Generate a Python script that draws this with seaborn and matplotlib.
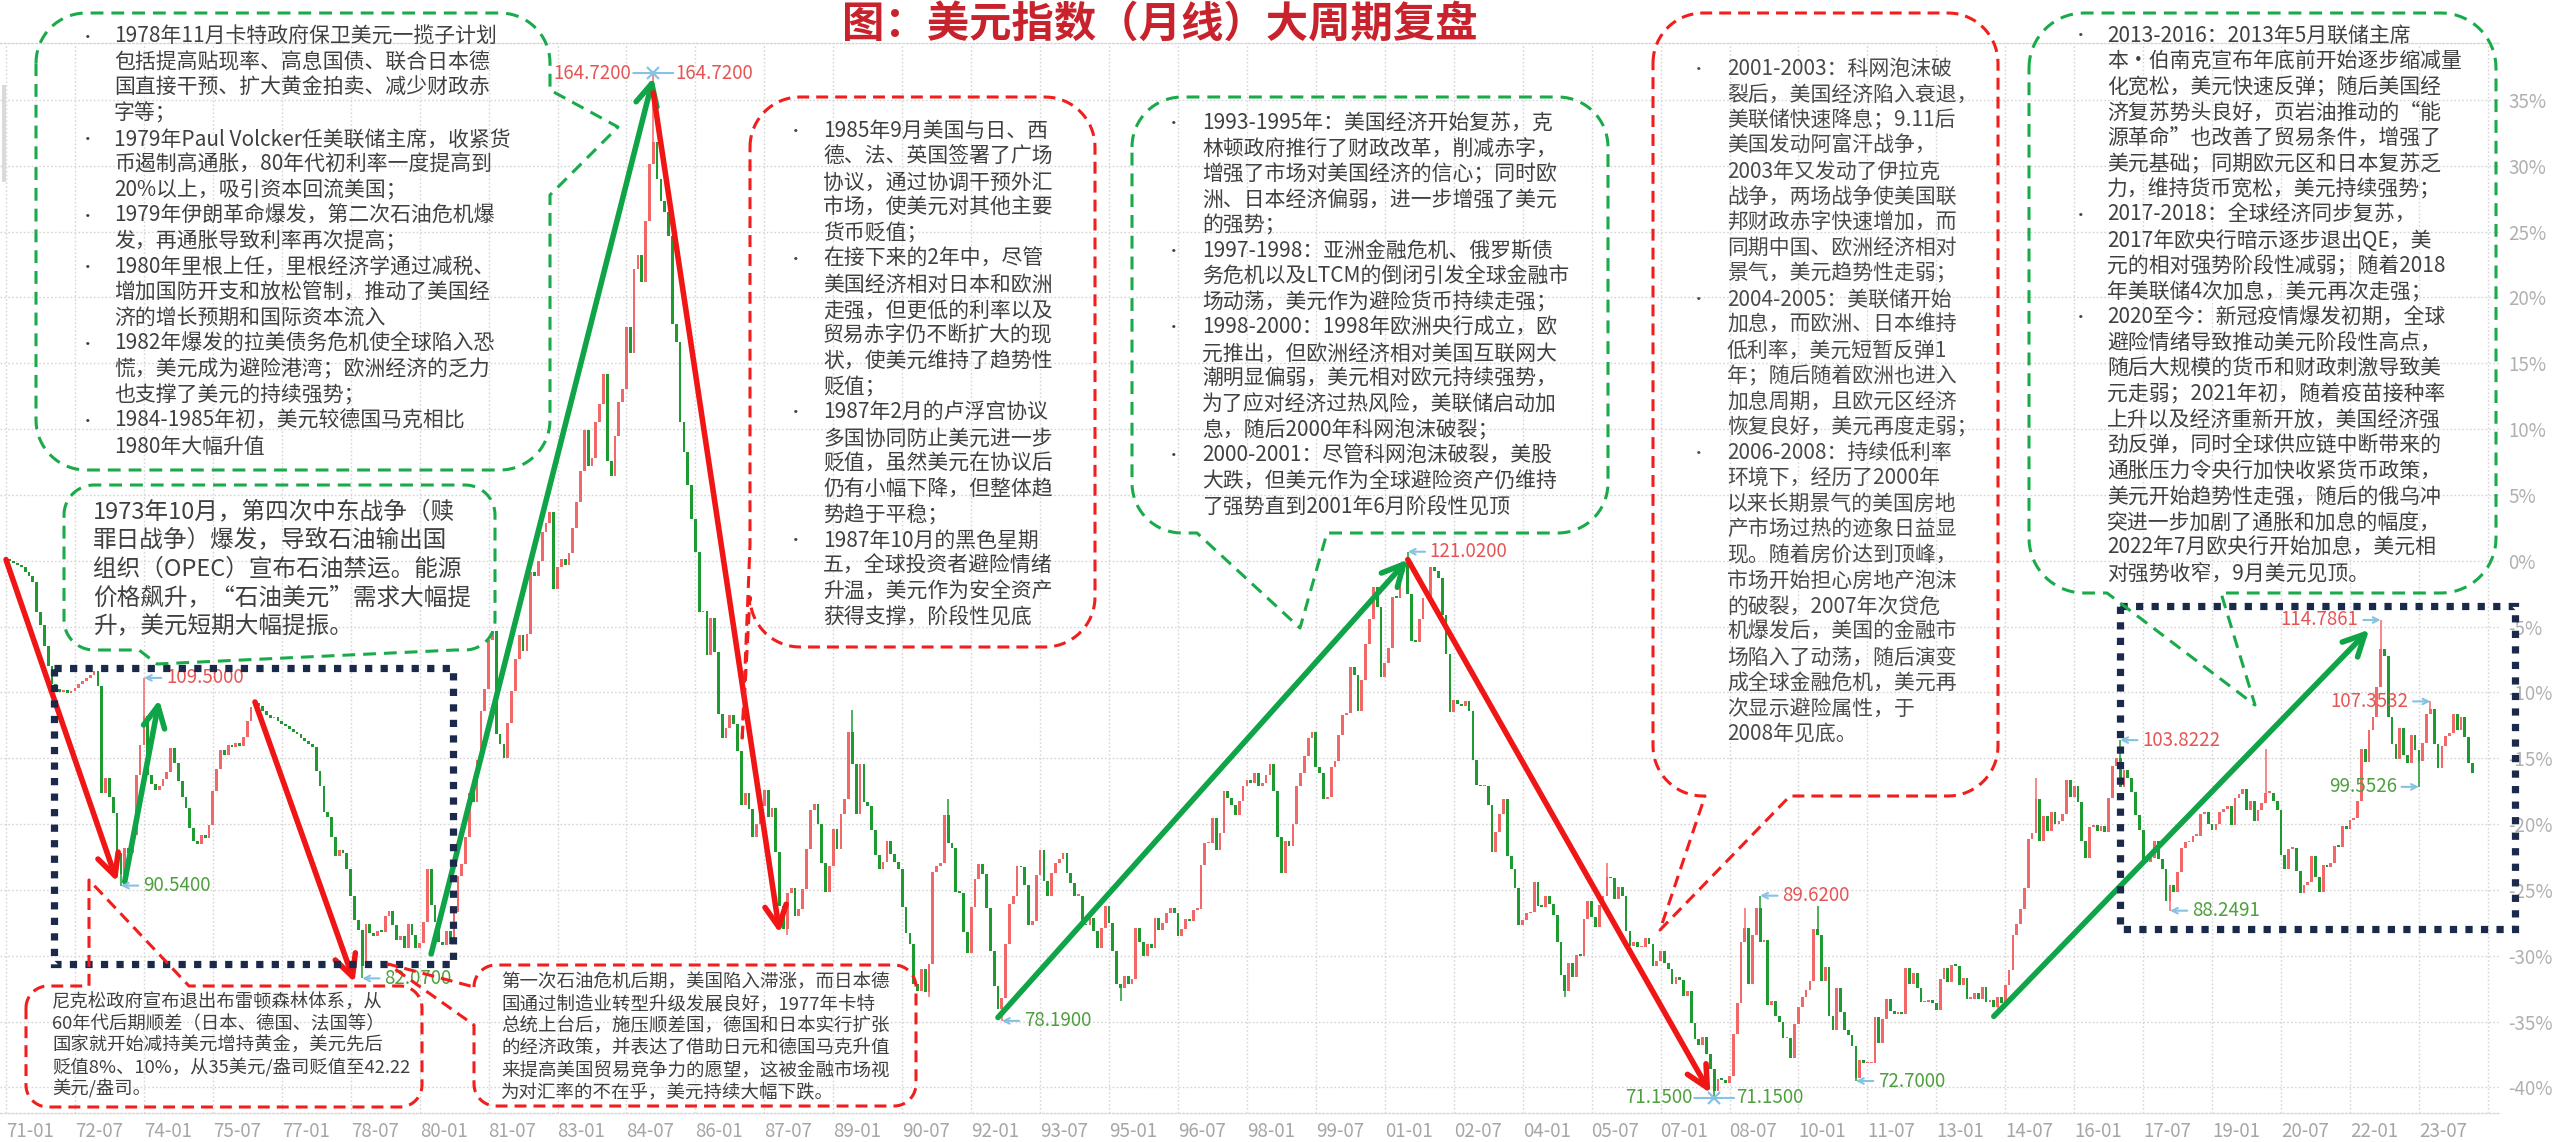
import numpy as np
import pandas as pd
import matplotlib
matplotlib.use("Agg")
import matplotlib.pyplot as plt
from matplotlib.patches import Rectangle
import seaborn as sns

# ---------------- data: US dollar index, monthly ----------------
start_month = "1971-01"
first_open = 120.5

close_1970s = [
    120.3, 120.2, 120.0, 119.8, 119.6, 119.2, 118.8, 118.3, 115.5, 114.3, 112.4, 110.6,   # 1971
    108.9, 108.5, 108.2, 108.4, 108.1, 108.3, 108.6, 108.9, 109.2, 109.5, 109.8, 110.1,   # 1972
    108.8, 99.0, 100.4, 98.6, 97.2, 93.5, 91.6, 94.0, 93.5, 95.2, 100.6, 103.4,           # 1973
    106.0, 100.6, 99.8, 99.3, 99.6, 100.3, 100.9, 103.1, 101.7, 100.1, 98.6, 97.6,        # 1974
    95.8, 94.6, 94.3, 95.2, 94.9, 96.1, 99.2, 101.2, 102.9, 102.5, 103.4, 103.2,          # 1975
    103.6, 103.3, 104.1, 105.6, 106.8, 107.2, 106.9, 106.5, 106.1, 105.8, 105.9, 105.6,   # 1976
    105.3, 105.1, 104.8, 104.6, 104.4, 104.0, 103.7, 103.5, 103.2, 101.0, 99.6, 97.3,     # 1977
    96.8, 95.0, 93.2, 93.8, 93.5, 92.1, 89.6, 87.4, 86.5, 83.2, 87.0, 86.2,               # 1978
    85.9, 86.4, 86.3, 87.8, 88.2, 86.9, 85.6, 85.9, 84.8, 87.0, 86.0, 84.8,               # 1979
]
close_1980s = [
    85.3, 87.2, 92.1, 88.8, 87.2, 85.4, 85.1, 86.4, 85.2, 88.1, 91.4, 92.5,               # 1980
    95.0, 99.0, 98.2, 102.0, 106.5, 108.5, 113.0, 113.8, 104.4, 103.5, 102.2, 105.4,      # 1981
    108.3, 111.2, 113.4, 112.0, 113.5, 119.2, 118.8, 120.2, 122.8, 123.6, 124.6, 117.6,   # 1982
    119.6, 120.4, 119.8, 120.9, 123.2, 125.6, 128.4, 132.1, 128.8, 129.6, 132.9, 134.5,   # 1983
    137.2, 129.3, 127.9, 131.6, 134.7, 135.9, 141.5, 139.2, 146.8, 148.1, 145.6, 151.2,   # 1984
    156.4, 158.4, 155.0, 153.0, 152.0, 149.8, 141.8, 140.2, 132.9, 130.1, 127.1, 124.0,   # 1985
    121.0, 115.5, 115.6, 111.6, 115.0, 111.9, 106.2, 104.0, 104.9, 106.1, 105.3, 102.8,   # 1986
    97.9, 99.0, 97.5, 95.0, 96.2, 97.8, 99.3, 96.8, 97.6, 93.6, 88.7, 86.6,               # 1987
    89.9, 90.3, 87.8, 88.4, 90.2, 93.9, 97.4, 98.0, 96.2, 92.6, 90.0, 92.3,               # 1988
    95.7, 93.9, 97.1, 98.4, 104.6, 101.6, 97.1, 101.6, 98.2, 97.8, 95.6, 93.3,            # 1989
]
close_1990s = [
    92.1, 92.7, 94.6, 93.4, 92.7, 92.1, 88.6, 86.2, 85.2, 81.6, 80.9, 82.9,               # 1990
    80.8, 83.4, 91.8, 92.3, 92.6, 97.0, 94.4, 94.0, 90.0, 89.9, 86.3, 84.4,               # 1991
    88.6, 91.1, 92.5, 91.6, 88.5, 84.6, 81.4, 79.3, 80.3, 85.2, 88.9, 89.6,               # 1992
    92.3, 92.2, 90.6, 86.9, 87.3, 91.5, 93.8, 91.0, 89.6, 91.7, 92.6, 93.0,               # 1993
    93.5, 91.7, 90.8, 89.6, 89.6, 87.0, 86.9, 87.6, 86.4, 84.8, 86.7, 88.7,               # 1994
    87.1, 84.6, 81.6, 81.2, 82.3, 81.6, 82.0, 86.7, 85.4, 84.1, 85.2, 84.8,               # 1995
    87.6, 86.5, 87.1, 88.0, 88.5, 88.0, 85.9, 86.6, 87.5, 87.3, 88.3, 88.4,               # 1996
    92.4, 94.4, 94.4, 96.7, 93.8, 95.3, 99.2, 98.5, 97.9, 97.0, 98.3, 99.6,               # 1997
    100.2, 99.9, 100.8, 99.6, 99.9, 100.6, 101.6, 99.2, 95.0, 91.7, 94.6, 94.2,           # 1998
    96.2, 99.6, 100.8, 102.4, 104.0, 104.6, 101.4, 100.8, 98.4, 98.6, 101.4, 101.9,       # 1999
]
close_2000s = [
    104.3, 106.1, 106.3, 110.5, 109.8, 106.5, 109.3, 112.6, 114.9, 117.8, 116.0, 109.6,   # 2000
    110.9, 112.2, 116.9, 116.8, 119.2, 120.0, 117.2, 112.9, 112.8, 114.9, 116.8, 116.8,   # 2001
    119.6, 119.3, 118.6, 115.2, 111.7, 106.4, 107.5, 107.1, 106.9, 107.4, 106.5, 102.0,   # 2002
    99.7, 99.6, 99.6, 97.9, 93.6, 95.4, 97.1, 98.4, 93.2, 92.1, 90.3, 86.9,               # 2003
    87.4, 88.0, 88.1, 90.9, 88.7, 88.6, 89.6, 88.9, 87.9, 85.4, 82.4, 80.9,               # 2004
    83.5, 82.2, 84.2, 84.1, 87.5, 89.1, 87.7, 86.8, 88.8, 89.6, 91.3, 91.2,               # 2005
    89.3, 90.4, 89.6, 86.4, 85.0, 85.4, 84.9, 84.9, 85.8, 85.2, 83.2, 83.7,               # 2006
    84.6, 83.5, 82.9, 81.6, 82.2, 81.9, 80.5, 80.9, 78.0, 76.5, 76.0, 76.7,               # 2007
    75.2, 73.8, 71.8, 72.9, 72.8, 72.5, 73.2, 77.0, 79.8, 85.4, 86.7, 81.6,               # 2008
    86.0, 88.5, 85.4, 85.6, 79.6, 80.0, 78.6, 78.1, 76.6, 76.6, 74.8, 77.9,               # 2009
]
close_2010s = [
    79.5, 80.4, 81.0, 81.8, 86.6, 86.0, 81.8, 83.1, 78.6, 77.4, 81.2, 79.0,               # 2010
    77.4, 76.9, 75.9, 73.0, 74.6, 74.3, 74.3, 74.3, 78.5, 76.2, 78.4, 80.2,               # 2011
    79.1, 78.8, 79.0, 78.8, 83.0, 81.6, 82.6, 81.2, 79.9, 79.9, 80.1, 79.8,               # 2012
    79.2, 82.0, 83.0, 81.7, 83.3, 83.2, 81.5, 82.1, 80.2, 80.2, 80.7, 80.2,               # 2013
    81.3, 79.9, 80.1, 79.5, 80.4, 79.8, 81.5, 82.8, 86.0, 87.0, 88.4, 90.3,               # 2014
    94.8, 95.3, 98.4, 94.6, 96.9, 95.5, 97.3, 96.2, 96.4, 97.1, 100.2, 98.6,              # 2015
    99.6, 98.2, 94.6, 93.1, 95.9, 96.1, 95.5, 96.0, 95.4, 98.5, 101.5, 102.2,             # 2016
    99.5, 101.1, 100.4, 99.1, 97.0, 95.6, 92.9, 92.7, 93.1, 94.6, 93.0, 92.1,             # 2017
    89.1, 90.6, 90.0, 91.8, 94.0, 94.5, 94.5, 95.1, 95.1, 97.1, 97.3, 96.2,               # 2018
    95.6, 96.2, 97.3, 97.5, 97.8, 96.1, 98.5, 98.9, 99.4, 97.4, 98.3, 96.4,               # 2019
]
close_2020s = [
    97.4, 98.1, 99.0, 99.0, 98.3, 97.4, 93.3, 92.1, 93.9, 94.0, 91.9, 89.9,               # 2020
    90.6, 90.9, 93.2, 91.3, 90.0, 92.4, 92.2, 92.6, 94.2, 94.1, 96.0, 95.7,               # 2021
    96.5, 96.7, 98.3, 103.0, 101.8, 104.7, 105.9, 108.7, 112.1, 111.5, 105.9, 103.5,      # 2022
    102.1, 104.9, 102.5, 101.7, 104.3, 102.9, 101.9, 103.6, 106.2, 106.7, 103.5, 101.3,   # 2023
    103.3, 104.2, 104.5, 106.2, 104.7, 105.9, 104.1, 101.7, 100.8,                        # 2024
]

# intramonth extremes (labelled ones first)
labeled_high_months = ["1974-01", "1985-02", "2001-07", "2009-03", "2017-01", "2022-09", "2023-10"]
labeled_high_values = [109.50, 164.72, 121.02, 89.62, 103.8222, 114.7861, 107.3532]
labeled_low_months = ["1973-07", "1978-10", "1992-09", "2008-03", "2011-04", "2018-02", "2023-07"]
labeled_low_values = [90.54, 82.07, 78.19, 71.15, 72.70, 88.2491, 99.5526]
extra_high_months = ["1989-06", "1991-07", "2005-11", "2008-11", "2010-06", "2015-03", "2020-03"]
extra_high_values = [106.6, 98.4, 92.6, 88.5, 88.7, 100.4, 103.0]
extra_low_months = ["1988-01", "1991-02", "1995-04", "2004-12", "2014-05"]
extra_low_values = [86.0, 80.4, 80.0, 80.4, 78.9]

# cycle trend segments (month, level)
trend_start_months = ["1971-01", "1973-08", "1976-06", "1980-04", "1985-02", "1992-08", "2001-07", "2014-04"]
trend_start_levels = [120.3, 90.9, 107.3, 84.3, 162.9, 78.5, 120.3, 78.6]
trend_end_months = ["1973-06", "1974-05", "1978-08", "1985-02", "1987-11", "2001-07", "2008-02", "2022-06"]
trend_end_levels = [90.9, 107.5, 81.7, 164.3, 86.2, 120.3, 71.6, 113.9]

tick_months = ["1971-01", "1972-07", "1974-01", "1975-07", "1977-01", "1978-07", "1980-01",
               "1981-07", "1983-01", "1984-07", "1986-01", "1987-07", "1989-01", "1990-07",
               "1992-01", "1993-07", "1995-01", "1996-07", "1998-01", "1999-07", "2001-01",
               "2002-07", "2004-01", "2005-07", "2007-01", "2008-07", "2010-01", "2011-07",
               "2013-01", "2014-07", "2016-01", "2017-07", "2019-01", "2020-07", "2022-01",
               "2023-07"]
grid_only_months = ["2025-01"]
percent_base = 120.2
pct_ticks = [-40, -35, -30, -25, -20, -15, -10, -5, 0, 5, 10, 15, 20, 25, 30, 35]

title = "图：美元指数（月线）大周期复盘"

# ---------------- styling ----------------
W, H = 2560, 1142
UP_C, DN_C = "#f26868", "#1e9b30"
TREND_UP, TREND_DN = "#0fa447", "#f01616"
BOX_GREEN, BOX_RED = "#19aa4a", "#f21d1d"
NAVY = "#1b2a4a"
LBL_RED, LBL_GREEN, ARROW_BLUE = "#e65555", "#4e9f3d", "#86c3e3"
TXT = "#404040"

sns.set_theme(style="white")
plt.rcParams["font.family"] = ["Noto Sans CJK SC", "DejaVu Sans"]
plt.rcParams["axes.unicode_minus"] = False

fig = plt.figure(figsize=(W / 100, H / 100), dpi=100, facecolor="white")


def mi(s):
    return (pd.Period(s, "M") - pd.Period(start_month, "M")).n


# price panel placed in pixel terms
PLOT_L, PLOT_R, PLOT_T, PLOT_B = 0, 2500, 43, 1113
PX0, PX_PER_M = 6.0, 3.83
ax = fig.add_axes([PLOT_L / W, 1 - PLOT_B / H, (PLOT_R - PLOT_L) / W, (PLOT_B - PLOT_T) / H], zorder=1)
ax.set_xlim((PLOT_L - PX0) / PX_PER_M, (PLOT_R - PX0) / PX_PER_M)
ax.set_ylim(69.78, 167.46)

closes = np.array(close_1970s + close_1980s + close_1990s + close_2000s + close_2010s + close_2020s)
n = len(closes)
opens = np.r_[first_open, closes[:-1]]
highs = np.maximum(opens, closes)
lows = np.minimum(opens, closes)
for mth, val in zip(labeled_high_months + extra_high_months, labeled_high_values + extra_high_values):
    highs[mi(mth)] = max(highs[mi(mth)], val)
for mth, val in zip(labeled_low_months + extra_low_months, labeled_low_values + extra_low_values):
    lows[mi(mth)] = min(lows[mi(mth)], val)

x = np.arange(n)
up = closes >= opens
cols = np.where(up, UP_C, DN_C)
ax.vlines(x, lows, highs, colors=cols, lw=1.1, zorder=2)
body = np.maximum(np.abs(closes - opens), 0.15)
ax.bar(x, body, bottom=np.minimum(opens, closes), width=0.72, color=cols, lw=0, zorder=3)

# grid / ticks
xt = [mi(s) for s in tick_months] + [mi(s) for s in grid_only_months]
ax.set_xticks(xt)
ax.set_xticklabels([s[2:] for s in tick_months] + ["" for _ in grid_only_months], ha="left")
yt = [percent_base * (1 + p / 100) for p in pct_ticks]
ax.set_yticks(yt)
ax.set_yticklabels([f"{p}%" for p in pct_ticks])
ax.yaxis.tick_right()
ax.tick_params(axis="x", length=0, pad=6, labelsize=13.5, labelcolor="#a6a6a6")
ax.tick_params(axis="y", length=0, pad=6, labelsize=13.5, labelcolor="#b0b0b0")
ax.set_axisbelow(True)
ax.grid(True, color="#d6d6d6", ls=(0, (1.2, 1.6)), lw=1.0)
for sp in ["left", "right"]:
    ax.spines[sp].set_visible(False)
for sp in ["top", "bottom"]:
    ax.spines[sp].set(visible=True, color="#d6d6d6", linestyle=(0, (1.2, 1.6)), linewidth=1.0)

# cycle trend arrows
for s, sv, e, ev in zip(trend_start_months, trend_start_levels, trend_end_months, trend_end_levels):
    col = TREND_UP if ev > sv else TREND_DN
    ax.annotate("", xy=(mi(e), ev), xytext=(mi(s), sv), xycoords="data", textcoords="data",
                arrowprops=dict(arrowstyle="->,head_length=1.1,head_width=0.55", color=col, lw=4.0,
                                mutation_scale=14, shrinkA=0, shrinkB=0),
                zorder=5, annotation_clip=False)


# extreme value labels
def value_label(month, value, color, side):
    i = mi(month)
    txt = f"{value:.4f}"
    common = dict(xy=(i, value), xycoords="data", textcoords="offset pixels", va="center",
                  color=color, fontsize=13.5, zorder=6, annotation_clip=False)
    arrow = dict(arrowstyle="->", color=ARROW_BLUE, lw=1.5, shrinkA=1, shrinkB=0, mutation_scale=10)
    if side == "right":
        ax.annotate(txt, xytext=(22, 0), ha="left", arrowprops=arrow, **common)
    elif side == "left":
        ax.annotate(txt, xytext=(-22, 0), ha="right", arrowprops=arrow, **common)
    else:
        seg = dict(arrowstyle="-", color=ARROW_BLUE, lw=1.5, shrinkA=0, shrinkB=0)
        for dx in (-20, 20):
            ax.annotate("", xy=(i, value), xytext=(dx, 0), textcoords="offset pixels",
                        arrowprops=seg, zorder=6, annotation_clip=False)
        ax.plot([i], [value], marker="x", ms=9, mew=1.6, color=ARROW_BLUE, zorder=7, clip_on=False)
        ax.annotate(txt, xytext=(-22, 0), ha="right", **common)
        ax.annotate(txt, xytext=(22, 0), ha="left", **common)


high_sides = ["right", "cross", "right", "right", "right", "left", "left"]
low_sides = ["right", "right", "right", "cross", "right", "right", "left"]
for mth, val, sd in zip(labeled_high_months, labeled_high_values, high_sides):
    value_label(mth, val, LBL_RED, sd)
for mth, val, sd in zip(labeled_low_months, labeled_low_values, low_sides):
    value_label(mth, val, LBL_GREEN, sd)

# ---------------- overlay in pixel coordinates ----------------
ov = fig.add_axes([0, 0, 1, 1], zorder=5)
ov.set_xlim(0, W)
ov.set_ylim(H, 0)
ov.axis("off")
ov.patch.set_alpha(0)


def callout(x0, y0, x1, y1, r, color, tail=None, lw=2.2, dash=(4.2, 2.6)):
    pts = []

    def arc(cx, cy, a0, a1):
        t = np.radians(np.linspace(a0, a1, 18))
        return list(zip(cx + r * np.cos(t), cy + r * np.sin(t)))

    side = tail[0] if tail else None
    pts += arc(x0 + r, y0 + r, 180, 270)
    if side == "top":
        pts += [(tail[1], y0), tail[3], (tail[2], y0)]
    pts += arc(x1 - r, y0 + r, 270, 360)
    if side == "right":
        pts += [(x1, tail[1]), tail[3], (x1, tail[2])]
    pts += arc(x1 - r, y1 - r, 0, 90)
    if side == "bottom":
        pts += [(tail[2], y1), tail[3], (tail[1], y1)]
    pts += arc(x0 + r, y1 - r, 90, 180)
    if side == "left":
        pts += [(x0, tail[2]), tail[3], (x0, tail[1])]
    pts.append(pts[0])
    xs, ys = zip(*pts)
    ov.plot(xs, ys, color=color, lw=lw, ls=(0, dash), dash_capstyle="butt")


def text_block(lines, x_text, y_first, dy, size, bullets=(), x_bullet=None, color=TXT):
    for k, line in enumerate(lines):
        y = y_first + k * dy
        ov.text(x_text, y, line, ha="left", va="center", fontsize=size, color=color)
        if k in bullets:
            ov.text(x_bullet, y, "•", ha="left", va="center", fontsize=size * 0.75, color=color)


# dotted frames around the two consolidation zones
for (rx0, ry0, rx1, ry1) in [(54, 668, 453, 964), (2120, 606, 2515, 929)]:
    ov.add_patch(Rectangle((rx0, ry0), rx1 - rx0, ry1 - ry0, fill=False, ec=NAVY, lw=5.2,
                           ls=(0, (1, 1.15))))

# 1978-1985 notes
callout(36, 13, 550, 470, 50, BOX_GREEN, tail=("right", 90, 195, (618, 127)))
text_block([
    "1978年11月卡特政府保卫美元一揽子计划",
    "包括提高贴现率、高息国债、联合日本德",
    "国直接干预、扩大黄金拍卖、减少财政赤",
    "字等；",
    "1979年Paul Volcker任美联储主席，收紧货",
    "币遏制高通胀，80年代初利率一度提高到",
    "20%以上，吸引资本回流美国；",
    "1979年伊朗革命爆发，第二次石油危机爆",
    "发，再通胀导致利率再次提高；",
    "1980年里根上任，里根经济学通过减税、",
    "增加国防开支和放松管制，推动了美国经",
    "济的增长预期和国际资本流入",
    "1982年爆发的拉美债务危机使全球陷入恐",
    "慌，美元成为避险港湾；欧洲经济的乏力",
    "也支撑了美元的持续强势；",
    "1984-1985年初，美元较德国马克相比",
    "1980年大幅升值",
], 114, 37, 25.6, 15.0, bullets=(0, 4, 7, 9, 12, 15), x_bullet=80)

# 1973 oil embargo
callout(64, 485, 495, 650, 30, BOX_GREEN, tail=("bottom", 139, 455, (157, 664)))
text_block([
    "1973年10月，第四次中东战争（赎",
    "罪日战争）爆发，导致石油输出国",
    "组织（OPEC）宣布石油禁运。能源",
    "价格飙升，“石油美元”需求大幅提",
    "升，美元短期大幅提振。",
], 93, 512, 28.7, 17.0)

# 1985-1987 notes
callout(750, 97, 1095, 647, 50, BOX_RED, tail=("left", 545, 597, (742, 742)), dash=(3.9, 2.3))
text_block([
    "1985年9月美国与日、西",
    "德、法、英国签署了广场",
    "协议，通过协调干预外汇",
    "市场，使美元对其他主要",
    "货币贬值；",
    "在接下来的2年中，尽管",
    "美国经济相对日本和欧洲",
    "走强，但更低的利率以及",
    "贸易赤字仍不断扩大的现",
    "状，使美元维持了趋势性",
    "贬值；",
    "1987年2月的卢浮宫协议",
    "多国协同防止美元进一步",
    "贬值，虽然美元在协议后",
    "仍有小幅下降，但整体趋",
    "势趋于平稳；",
    "1987年10月的黑色星期",
    "五，全球投资者避险情绪",
    "升温，美元作为安全资产",
    "获得支撑，阶段性见底",
], 823, 131, 25.6, 15.0, bullets=(0, 5, 11, 16), x_bullet=788)

# 1993-2001 notes
callout(1132, 97, 1608, 533, 50, BOX_GREEN, tail=("bottom", 1197, 1327, (1300, 628)))
text_block([
    "1993-1995年：美国经济开始复苏，克",
    "林顿政府推行了财政改革，削减赤字，",
    "增强了市场对美国经济的信心；同时欧",
    "洲、日本经济偏弱，进一步增强了美元",
    "的强势；",
    "1997-1998：亚洲金融危机、俄罗斯债",
    "务危机以及LTCM的倒闭引发全球金融市",
    "场动荡，美元作为避险货币持续走强；",
    "1998-2000：1998年欧洲央行成立，欧",
    "元推出，但欧洲经济相对美国互联网大",
    "潮明显偏弱，美元相对欧元持续强势，",
    "为了应对经济过热风险，美联储启动加",
    "息，随后2000年科网泡沫破裂；",
    "2000-2001：尽管科网泡沫破裂，美股",
    "大跌，但美元作为全球避险资产仍维持",
    "了强势直到2001年6月阶段性见顶",
], 1202, 123, 25.6, 15.0, bullets=(0, 5, 8, 13), x_bullet=1166)

# 2001-2008 notes
callout(1653, 13, 1998, 796, 50, BOX_RED, tail=("bottom", 1705, 1790, (1660, 930)), dash=(3.9, 2.3))
text_block([
    "2001-2003：科网泡沫破",
    "裂后，美国经济陷入衰退，",
    "美联储快速降息；9.11后",
    "美国发动阿富汗战争，",
    "2003年又发动了伊拉克",
    "战争，两场战争使美国联",
    "邦财政赤字快速增加，而",
    "同期中国、欧洲经济相对",
    "景气，美元趋势性走弱；",
    "2004-2005：美联储开始",
    "加息，而欧洲、日本维持",
    "低利率，美元短暂反弹1",
    "年；随后随着欧洲也进入",
    "加息周期，且欧元区经济",
    "恢复良好，美元再度走弱；",
    "2006-2008：持续低利率",
    "环境下，经历了2000年",
    "以来长期景气的美国房地",
    "产市场过热的迹象日益显",
    "现。随着房价达到顶峰，",
    "市场开始担心房地产泡沫",
    "的破裂，2007年次贷危",
    "机爆发后，美国的金融市",
    "场陷入了动荡，随后演变",
    "成全球金融危机，美元再",
    "次显示避险属性，于",
    "2008年见底。",
], 1727, 69, 25.6, 15.0, bullets=(0, 9, 15), x_bullet=1691, color="#4a4a4a")

# 2013-2022 notes
callout(2029, 13, 2496, 593, 55, BOX_GREEN, tail=("bottom", 2107, 2221, (2255, 705)))
text_block([
    "2013-2016：2013年5月联储主席",
    "本·伯南克宣布年底前开始逐步缩减量",
    "化宽松，美元快速反弹；随后美国经",
    "济复苏势头良好，页岩油推动的“能",
    "源革命”也改善了贸易条件，增强了",
    "美元基础；同期欧元区和日本复苏乏",
    "力，维持货币宽松，美元持续强势；",
    "2017-2018：全球经济同步复苏，",
    "2017年欧央行暗示逐步退出QE，美",
    "元的相对强势阶段性减弱；随着2018",
    "年美联储4次加息，美元再次走强；",
    "2020至今：新冠疫情爆发初期，全球",
    "避险情绪导致推动美元阶段性高点，",
    "随后大规模的货币和财政刺激导致美",
    "元走弱；2021年初，随着疫苗接种率",
    "上升以及经济重新开放，美国经济强",
    "劲反弹，同时全球供应链中断带来的",
    "通胀压力令央行加快收紧货币政策，",
    "美元开始趋势性走强，随后的俄乌冲",
    "突进一步加剧了通胀和加息的幅度，",
    "2022年7月欧央行开始加息，美元相",
    "对强势收窄，9月美元见顶。",
], 2107, 36, 25.6, 15.0, bullets=(0, 7, 11), x_bullet=2073)

# Bretton Woods exit
callout(26, 986, 422, 1107, 22, BOX_RED, tail=("top", 89, 189, (89, 880)), dash=(3.9, 2.3))
text_block([
    "尼克松政府宣布退出布雷顿森林体系，从",
    "60年代后期顺差（日本、德国、法国等）",
    "国家就开始减持美元增持黄金，美元先后",
    "贬值8%、10%，从35美元/盎司贬值至42.22",
    "美元/盎司。",
], 52, 1003, 21.5, 13.2)

# stagflation period
callout(474, 965, 916, 1106, 22, BOX_RED, tail=("left", 987, 1025, (388, 964)), dash=(3.9, 2.3))
text_block([
    "第一次石油危机后期，美国陷入滞涨，而日本德",
    "国通过制造业转型升级发展良好，1977年卡特",
    "总统上台后，施压顺差国，德国和日本实行扩张",
    "的经济政策，并表达了借助日元和德国马克升值",
    "来提高美国贸易竞争力的愿望，这被金融市场视",
    "为对汇率的不在乎，美元持续大幅下跌。",
], 501, 982, 22.2, 13.3)

# left edge scroll strip
ov.add_patch(Rectangle((2, 85), 4, 97, color="#dadada", lw=0))

# title
ov.text(1160, 25, title, ha="center", va="center", fontsize=30.5, fontweight="bold", color="#c8232c")

fig.savefig("out.png", dpi=100, facecolor="white")
